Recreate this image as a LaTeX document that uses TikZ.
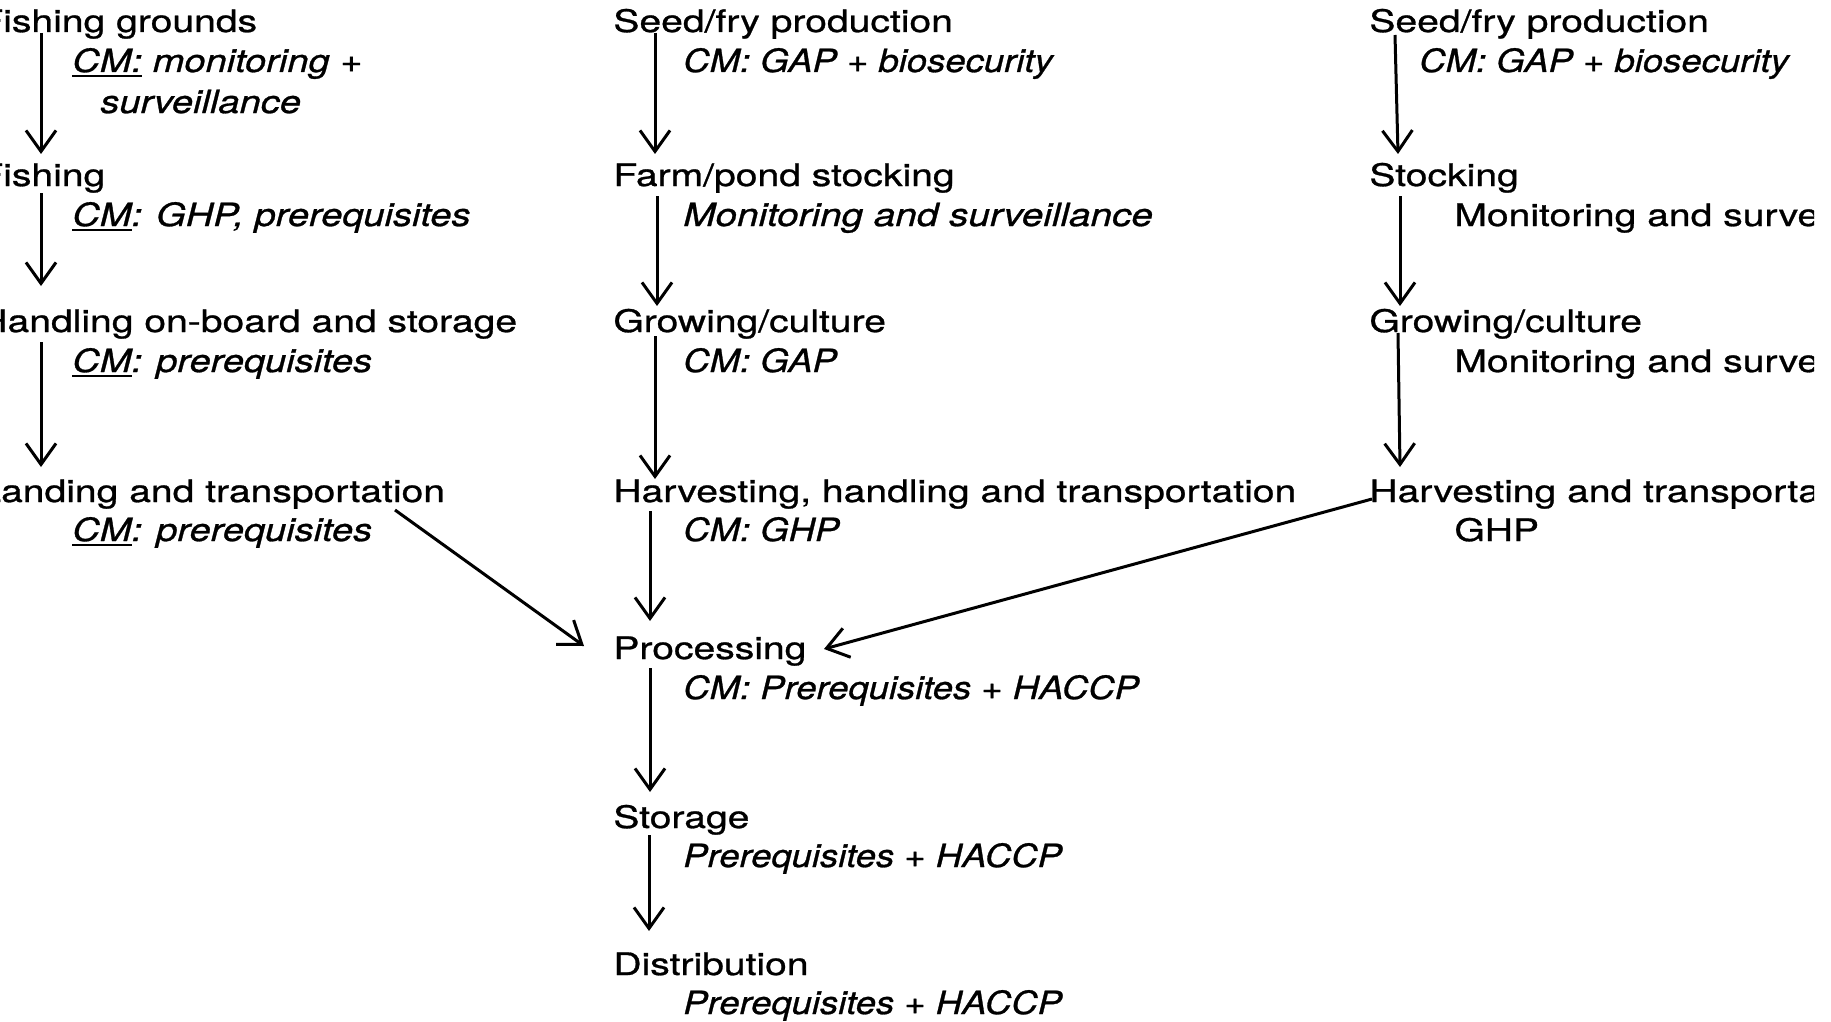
\documentclass[tikz,border=0pt]{standalone}
\usepackage{fontspec}
\setmainfont{TeX Gyre Heros}
\newfontfamily\mainfam{TeX Gyre Heros}[FakeStretch=1.26, FakeBold=0.9]
\newfontfamily\subfam{TeX Gyre Heros}[FakeStretch=1.14, FakeBold=0.9]
\newfontfamily\leftsubfam{TeX Gyre Heros}[FakeStretch=1.19, FakeBold=0.9]
\usetikzlibrary{arrows.meta,calc}
\newcommand{\mainsz}{\mainfam\fontsize{15.5}{16}\selectfont}
\newcommand{\subsz}{\subfam\fontsize{16}{17}\selectfont\itshape}
\newcommand{\leftsubsz}{\leftsubfam\fontsize{16}{17}\selectfont\itshape}
\newcommand{\cmul}[1]{\setbox0=\hbox{#1}\rlap{\rule[-2.4pt]{\wd0}{0.9pt}}\box0\relax}
\begin{document}
\begin{tikzpicture}[x=0.5pt,y=-0.5pt,
  lab/.style={anchor=base west, inner sep=0pt, font=\mainsz},
  sub/.style={anchor=base west, inner sep=0pt, font=\subsz},
  lsub/.style={anchor=base west, inner sep=0pt, font=\leftsubsz},
  subup/.style={anchor=base west, inner sep=0pt, font=\mainsz},
  arr/.style={line width=1.5pt, -{Straight Barb[length=10.5pt, width=15pt, line width=1.5pt]}}]
\useasboundingbox (0,0) rectangle (1831,1022);
\clip (0,0) rectangle (1814,1022);
% left column
\node[lab] (lf1) at (-21,32) {Fishing grounds};
\node[lsub] (lc1a) at (72,72) {\cmul{CM:} monitoring +};
\node[lsub] (lc1b) at (100,113) {surveillance};
\node[lab] (lf2) at (-21,186) {Fishing};
\node[lsub] (lc2) at (72,226) {\cmul{CM}: GHP, prerequisites};
\node[lab] (lf3) at (-21,332) {Handling on-board and storage};
\node[lsub] (lc3) at (72,372) {\cmul{CM}: prerequisites};
\node[lab] (lf4) at (-21,502) {Landing and transportation};
\node[lsub] (lc4) at (72,541) {\cmul{CM}: prerequisites};
% middle column
\node[lab] (m1) at (613,32) {Seed/fry production};
\node[sub] (mc1) at (683,72) {CM: GAP + biosecurity};
\node[lab] (m2) at (613,186) {Farm/pond stocking};
\node[sub] (mc2) at (683,226) {\scalebox{1.06}[1]{Monitoring and surveillance}};
\node[lab] (m3) at (613,332) {Growing/culture};
\node[sub] (mc3) at (683,372) {CM: GAP};
\node[lab] (m4) at (613,502) {Harvesting, handling and transportation};
\node[sub] (mc4) at (683,541) {CM: GHP};
\node[lab] (m5) at (613,659) {Processing};
\node[sub] (mc5) at (683,699) {CM: Prerequisites + HACCP};
\node[lab] (m6) at (613,828) {Storage};
\node[sub] (mc6) at (683,867) {Prerequisites + HACCP};
\node[lab] (m7) at (613,975) {Distribution};
\node[sub] (mc7) at (683,1014) {Prerequisites + HACCP};
% right column
\node[lab] (r1) at (1369,32) {Seed/fry production};
\node[sub] (rc1) at (1419,72) {CM: GAP + biosecurity};
\node[lab] (r2) at (1369,186) {Stocking};
\node[subup] (rc2) at (1454,226) {Monitoring and surveillance};
\node[lab] (r3) at (1369,332) {Growing/culture};
\node[subup] (rc3) at (1454,372) {Monitoring and surveillance};
\node[lab] (r4) at (1369,502) {Harvesting and transportation};
\node[subup] (rc4) at (1454,541) {GHP};
% left arrows
\draw[arr] ($(lf1.base west)+(62,1)$) -- ($(lf2.base west)+(62,-32)$);
\draw[arr] ($(lf2.base west)+(62,7)$) -- ($(lf3.base west)+(62,-46)$);
\draw[arr] ($(lf3.base west)+(62,10)$) -- ($(lf4.base west)+(62,-35)$);
\draw[arr] ($(lf4.base west)+(416,8)$) -- ($(m5.base west)+(-29,-13)$);
% middle arrows
\draw[arr] ($(m1.base west)+(42,1)$) -- ($(m2.base west)+(42,-32)$);
\draw[arr] ($(m2.base west)+(44,10)$) -- ($(m3.base west)+(44,-26)$);
\draw[arr] ($(m3.base west)+(42,4)$) -- ($(m4.base west)+(42,-23)$);
\draw[arr] ($(m4.base west)+(37,9)$) -- ($(m5.base west)+(37,-38)$);
\draw[arr] ($(m5.base west)+(37,9)$) -- ($(m6.base west)+(37,-36)$);
\draw[arr] ($(m6.base west)+(36,7)$) -- ($(m7.base west)+(36,-44)$);
% right arrows
\draw[arr] ($(r1.base west)+(26,3)$) -- ($(r2.base west)+(29,-32)$);
\draw[arr] ($(r2.base west)+(31,10)$) -- ($(r3.base west)+(31,-26)$);
\draw[arr] ($(r3.base west)+(29,1)$) -- ($(r4.base west)+(31,-35)$);
\draw[arr] ($(r4.base west)+(3,-3)$) -- ($(m5.base west)+(211,-10)$);
\end{tikzpicture}
\end{document}
